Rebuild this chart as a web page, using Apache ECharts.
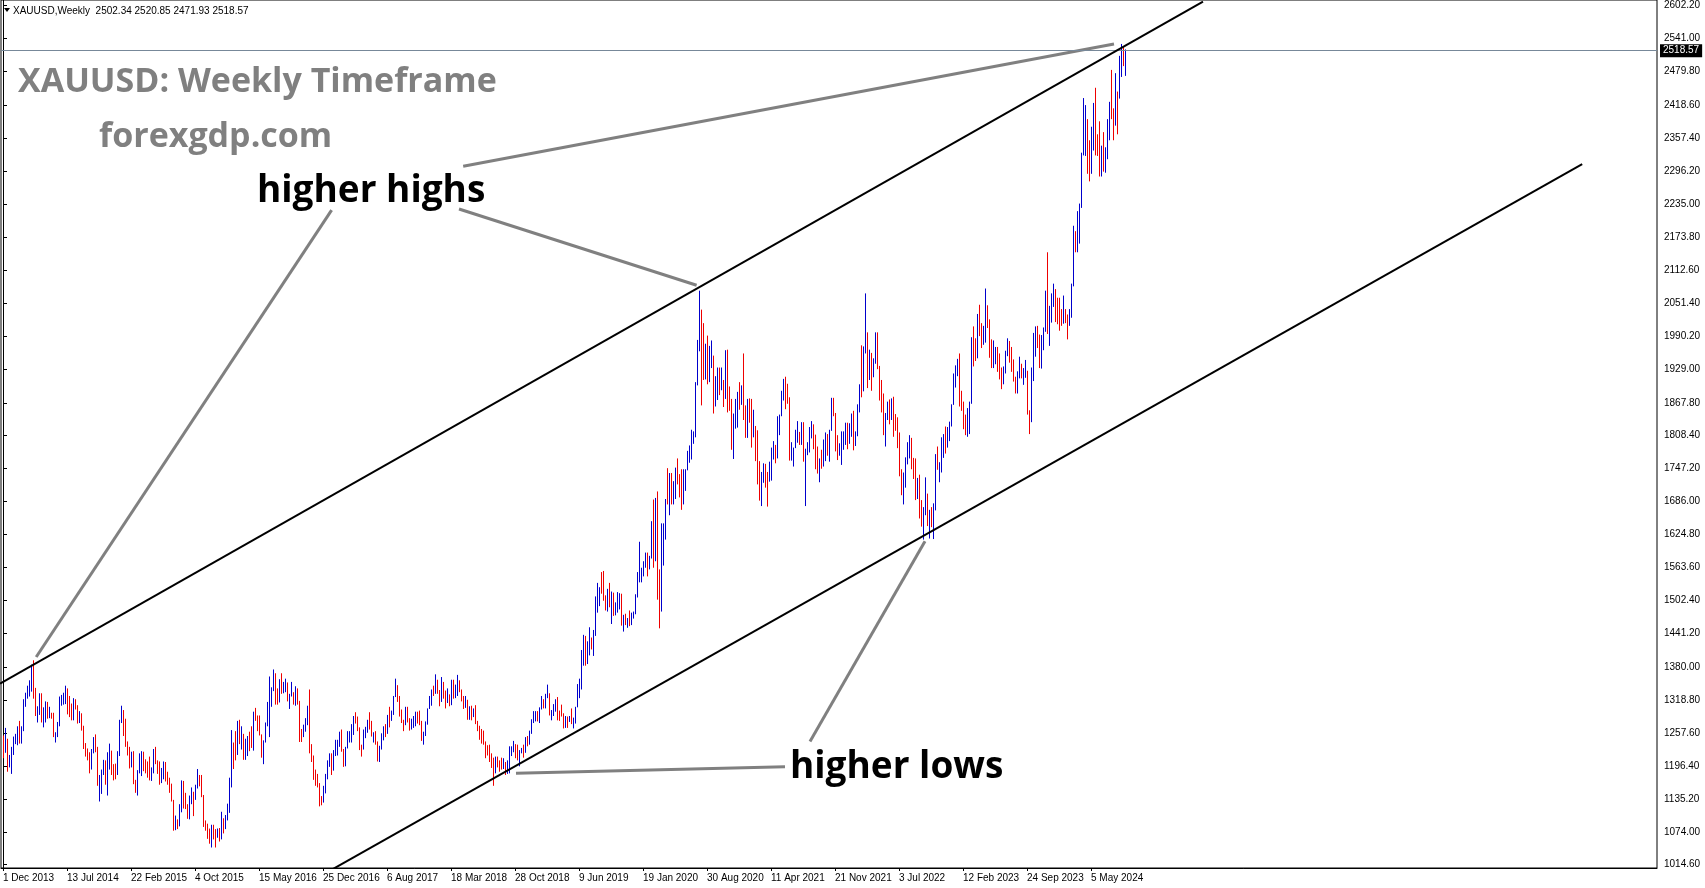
<!DOCTYPE html>
<html><head><meta charset="utf-8">
<script src="https://cdn.jsdelivr.net/npm/echarts@6/dist/echarts.min.js"></script>
<style>html,body{margin:0;padding:0;background:#fff;}#c{width:1705px;height:888px;}</style>
</head><body><div id="c"></div>
<script>
// ---- chart data (weekly OHLC, XAUUSD) ----
const symbol = 'XAUUSD', timeframe = 'Weekly';
const firstWeek = '1 Dec 2013';
const y2013 = [[1250,1253,1211,1229],[1229,1267,1221,1234],[1234,1247,1186,1196],[1196,1217,1194,1212],[1212,1232,1182,1225]];
const y2014 = [[1225,1251,1217,1250],[1250,1256,1237,1254],[1254,1270,1235,1264],[1264,1280,1238,1240],
[1240,1270,1238,1262],[1262,1320,1261,1318],[1318,1332,1306,1324],[1324,1345,1321,1328],
[1328,1355,1325,1339],[1339,1384,1334,1379],[1379,1392,1321,1334],[1334,1341,1289,1294],[1294,1307,1277,1303],
[1303,1331,1291,1318],[1318,1331,1277,1293],[1293,1305,1268,1300],[1300,1316,1277,1302],
[1302,1315,1284,1290],[1290,1306,1285,1293],[1293,1295,1284,1291],[1291,1295,1250,1250],
[1250,1259,1240,1252],[1252,1278,1250,1275],[1275,1325,1270,1316],[1316,1328,1308,1318],[1318,1332,1310,1320],
[1320,1345,1311,1338],[1338,1340,1292,1310],[1310,1326,1287,1304],[1304,1312,1281,1294],
[1294,1322,1281,1310],[1310,1320,1301,1305],[1305,1309,1275,1280],[1280,1298,1276,1287],[1287,1294,1262,1268],
[1268,1271,1228,1231],[1231,1239,1214,1216],[1216,1229,1207,1214],[1214,1222,1183,1192],
[1192,1228,1190,1222],[1222,1250,1220,1238],[1238,1255,1222,1231],[1231,1232,1160,1171],
[1171,1180,1131,1177],[1177,1190,1145,1188],[1188,1208,1180,1200],[1200,1207,1162,1167],[1167,1222,1142,1192],
[1192,1238,1190,1223],[1223,1225,1180,1196],[1196,1200,1170,1195],[1195,1201,1172,1186]];
const y2015 = [[1186,1224,1180,1216],[1216,1282,1215,1277],[1277,1308,1276,1293],[1293,1300,1252,1279],
[1279,1284,1232,1234],[1234,1242,1216,1228],[1228,1232,1192,1203],[1203,1223,1194,1213],
[1213,1224,1163,1166],[1166,1171,1147,1152],[1152,1189,1142,1184],[1184,1220,1183,1199],[1199,1224,1178,1219],
[1219,1223,1187,1207],[1207,1209,1183,1203],[1203,1205,1175,1178],[1178,1214,1170,1175],
[1175,1194,1169,1189],[1189,1228,1183,1225],[1225,1232,1200,1204],[1204,1207,1182,1190],[1190,1205,1162,1168],
[1168,1193,1165,1180],[1180,1205,1172,1201],[1201,1204,1168,1173],[1173,1186,1162,1163],
[1163,1175,1147,1157],[1157,1164,1131,1133],[1133,1134,1077,1085],[1085,1105,1078,1095],
[1095,1098,1080,1094],[1094,1126,1085,1113],[1113,1170,1111,1160],[1160,1169,1118,1134],[1134,1147,1117,1121],
[1121,1126,1099,1107],[1107,1142,1098,1138],[1138,1157,1126,1145],[1145,1149,1104,1136],
[1136,1162,1134,1156],[1156,1191,1155,1176],[1176,1180,1159,1162],[1162,1180,1139,1142],
[1142,1143,1084,1088],[1088,1096,1077,1081],[1081,1090,1062,1076],[1076,1081,1053,1056],[1056,1088,1046,1086],
[1086,1088,1061,1075],[1075,1080,1046,1066],[1066,1081,1064,1076],[1076,1082,1057,1061]];
const y2016 = [[1061,1112,1061,1098],[1098,1100,1072,1089],[1089,1106,1080,1097],[1097,1127,1096,1118],[1118,1175,1110,1158],
[1158,1263,1157,1239],[1239,1240,1191,1230],[1230,1261,1207,1221],[1221,1280,1217,1259],
[1259,1282,1237,1249],[1249,1270,1227,1254],[1254,1256,1208,1217],[1217,1247,1208,1220],
[1220,1252,1215,1243],[1243,1260,1224,1234],[1234,1270,1230,1232],[1232,1297,1225,1291],
[1291,1304,1280,1290],[1290,1290,1261,1273],[1273,1290,1253,1253],[1253,1255,1212,1213],[1213,1244,1200,1243],
[1243,1277,1240,1275],[1275,1315,1270,1298],[1298,1362,1250,1322],[1322,1342,1306,1340],
[1340,1375,1335,1366],[1366,1368,1310,1327],[1327,1340,1310,1322],[1322,1357,1314,1351],[1351,1368,1330,1335],
[1335,1352,1331,1336],[1336,1358,1333,1341],[1341,1351,1316,1321],[1321,1330,1302,1327],
[1327,1352,1325,1328],[1328,1333,1310,1310],[1310,1344,1308,1338],[1338,1340,1310,1316],
[1316,1317,1241,1257],[1257,1265,1241,1251],[1251,1273,1250,1266],[1266,1285,1260,1276],[1276,1308,1272,1304],
[1304,1338,1220,1225],[1225,1237,1204,1208],[1208,1216,1171,1178],[1178,1190,1160,1177],
[1177,1182,1157,1160],[1160,1165,1122,1133],[1133,1141,1124,1132],[1132,1160,1129,1151]];
const y2017 = [[1151,1182,1146,1173],[1173,1207,1172,1197],[1197,1220,1195,1210],[1210,1220,1180,1190],[1190,1226,1188,1220],
[1220,1245,1215,1234],[1234,1245,1216,1238],[1238,1260,1232,1257],[1257,1264,1223,1226],
[1226,1228,1195,1202],[1202,1232,1196,1229],[1229,1261,1229,1243],[1243,1261,1240,1249],
[1249,1274,1240,1254],[1254,1289,1254,1285],[1285,1296,1275,1284],[1284,1288,1261,1268],[1268,1268,1226,1228],
[1228,1236,1214,1227],[1227,1264,1227,1254],[1254,1269,1248,1268],[1268,1282,1258,1280],
[1280,1296,1264,1266],[1266,1280,1251,1254],[1254,1259,1240,1256],[1256,1261,1236,1242],
[1242,1242,1205,1212],[1212,1234,1204,1228],[1228,1257,1227,1254],[1254,1270,1244,1269],[1269,1274,1250,1258],
[1258,1291,1256,1289],[1289,1306,1268,1285],[1285,1299,1280,1292],[1292,1326,1291,1325],
[1325,1358,1324,1346],[1346,1346,1315,1320],[1320,1326,1288,1297],[1297,1301,1276,1280],
[1280,1282,1261,1274],[1274,1306,1272,1304],[1304,1306,1277,1280],[1280,1285,1262,1266],[1266,1284,1264,1269],
[1269,1289,1267,1275],[1275,1297,1270,1294],[1294,1297,1275,1288],[1288,1299,1272,1280],
[1280,1280,1243,1248],[1248,1260,1236,1256],[1256,1279,1252,1277],[1277,1303,1273,1302]];
const y2018 = [[1302,1326,1302,1320],[1320,1338,1308,1338],[1338,1345,1326,1332],[1332,1366,1330,1352],[1352,1356,1330,1333],
[1333,1337,1307,1316],[1316,1361,1315,1347],[1347,1352,1321,1330],[1330,1336,1303,1323],
[1323,1340,1313,1324],[1324,1329,1307,1313],[1313,1356,1309,1349],[1349,1356,1321,1325],
[1325,1347,1322,1332],[1332,1365,1326,1345],[1345,1355,1333,1336],[1336,1338,1316,1323],[1323,1326,1302,1315],
[1315,1326,1304,1318],[1318,1319,1282,1291],[1291,1307,1282,1302],[1302,1308,1281,1294],
[1294,1303,1287,1298],[1298,1309,1274,1278],[1278,1280,1261,1268],[1268,1271,1245,1252],
[1252,1265,1238,1241],[1241,1262,1236,1240],[1240,1242,1211,1231],[1231,1235,1216,1223],[1223,1236,1204,1214],
[1214,1220,1193,1212],[1212,1212,1160,1184],[1184,1214,1183,1206],[1206,1214,1194,1200],
[1200,1207,1186,1198],[1198,1212,1190,1193],[1193,1211,1191,1199],[1199,1204,1180,1192],[1192,1207,1182,1203],
[1203,1233,1183,1218],[1218,1233,1215,1227],[1227,1243,1222,1233],[1233,1237,1211,1232],
[1232,1236,1207,1209],[1209,1226,1196,1222],[1222,1230,1220,1223],[1223,1236,1212,1222],
[1222,1250,1221,1248],[1248,1252,1233,1238],[1238,1262,1236,1257],[1257,1283,1256,1278],[1278,1298,1276,1285]];
const y2019 = [[1285,1298,1279,1290],[1290,1298,1279,1282],[1282,1305,1276,1304],[1304,1326,1301,1318],
[1318,1320,1303,1314],[1314,1330,1303,1323],[1323,1347,1322,1329],[1329,1331,1290,1293],
[1293,1300,1281,1298],[1298,1311,1289,1302],[1302,1320,1297,1313],[1313,1324,1281,1292],[1292,1299,1280,1291],
[1291,1310,1288,1290],[1290,1294,1266,1276],[1276,1289,1267,1286],[1286,1288,1267,1280],
[1280,1289,1278,1286],[1286,1303,1274,1277],[1277,1286,1266,1284],[1284,1306,1275,1305],
[1305,1348,1305,1341],[1341,1358,1322,1342],[1342,1411,1338,1399],[1399,1439,1382,1409],[1409,1437,1382,1400],
[1400,1427,1385,1415],[1415,1453,1401,1426],[1426,1434,1412,1419],[1419,1448,1400,1440],
[1440,1510,1437,1497],[1497,1535,1480,1513],[1513,1527,1492,1527],[1527,1555,1515,1520],
[1520,1557,1502,1507],[1507,1512,1484,1488],[1488,1524,1482,1517],[1517,1535,1490,1497],[1497,1519,1459,1505],
[1505,1517,1474,1489],[1489,1499,1475,1490],[1490,1518,1480,1505],[1505,1516,1486,1514],
[1514,1515,1456,1459],[1459,1476,1445,1468],[1468,1478,1457,1462],[1462,1470,1452,1464],
[1464,1484,1455,1460],[1460,1480,1457,1476],[1476,1482,1469,1478],[1478,1514,1477,1511],[1511,1555,1508,1552]];
const y2020 = [[1552,1611,1536,1557],[1557,1563,1536,1558],[1558,1575,1547,1572],[1572,1591,1563,1589],
[1589,1591,1547,1570],[1570,1585,1560,1584],[1584,1649,1580,1643],[1643,1689,1563,1585],
[1585,1692,1575,1674],[1674,1704,1504,1530],[1530,1560,1451,1498],[1498,1645,1482,1617],[1617,1645,1567,1620],
[1620,1690,1615,1683],[1683,1747,1680,1682],[1682,1738,1660,1727],[1727,1738,1680,1700],
[1700,1723,1680,1702],[1702,1748,1690,1744],[1744,1765,1717,1735],[1735,1736,1693,1730],[1730,1745,1670,1685],
[1685,1745,1680,1730],[1730,1745,1705,1743],[1743,1779,1743,1771],[1771,1789,1757,1775],
[1775,1818,1763,1799],[1799,1815,1792,1810],[1810,1906,1804,1902],[1902,1984,1900,1975],
[1975,2075,1963,2035],[2035,2040,1863,1944],[1944,2015,1910,1940],[1940,1977,1911,1964],[1964,1992,1902,1934],
[1934,1973,1906,1941],[1941,1983,1932,1950],[1950,1955,1848,1862],[1862,1917,1861,1899],
[1899,1933,1873,1930],[1930,1933,1882,1899],[1899,1933,1891,1902],[1902,1910,1860,1879],
[1879,1965,1875,1951],[1951,1966,1850,1887],[1887,1898,1853,1871],[1871,1875,1781,1788],[1788,1848,1764,1839],
[1839,1875,1820,1840],[1840,1888,1822,1881],[1881,1906,1855,1878],[1878,1900,1864,1898]];
const y2021 = [[1898,1959,1836,1849],[1849,1863,1803,1828],[1828,1875,1803,1856],[1856,1876,1831,1847],[1847,1875,1785,1813],
[1813,1855,1804,1824],[1824,1825,1760,1784],[1784,1817,1717,1734],[1734,1760,1687,1700],
[1700,1740,1677,1727],[1727,1756,1720,1745],[1745,1755,1711,1732],[1732,1740,1676,1729],
[1729,1759,1722,1744],[1744,1785,1724,1777],[1777,1797,1763,1778],[1778,1790,1756,1769],
[1769,1843,1765,1831],[1831,1846,1808,1844],[1844,1890,1843,1881],[1881,1912,1872,1903],[1903,1916,1856,1891],
[1891,1903,1866,1877],[1877,1878,1761,1764],[1764,1795,1761,1781],[1781,1785,1750,1784],
[1784,1818,1784,1808],[1808,1834,1794,1812],[1812,1814,1790,1802],[1802,1832,1790,1814],
[1814,1832,1759,1763],[1763,1783,1677,1780],[1780,1795,1771,1781],[1781,1823,1776,1817],[1817,1834,1802,1827],
[1827,1828,1782,1788],[1788,1809,1745,1754],[1754,1787,1737,1750],[1750,1765,1721,1761],
[1761,1781,1746,1757],[1757,1800,1750,1767],[1767,1813,1760,1793],[1793,1810,1770,1783],[1783,1818,1759,1818],
[1818,1877,1816,1864],[1864,1877,1843,1846],[1846,1849,1778,1802],[1802,1808,1762,1783],
[1783,1793,1770,1784],[1784,1815,1753,1798],[1798,1815,1781,1808],[1808,1831,1790,1829]];
const y2022 = [[1829,1831,1782,1797],[1797,1830,1792,1817],[1817,1848,1805,1835],[1835,1853,1780,1791],[1791,1815,1788,1807],
[1807,1865,1806,1859],[1859,1902,1850,1898],[1898,1974,1878,1889],[1889,1972,1889,1966],
[1966,2070,1959,1989],[1989,1998,1895,1921],[1921,1966,1910,1958],[1958,1960,1890,1925],
[1925,1950,1915,1947],[1947,1998,1940,1974],[1974,1998,1930,1931],[1931,1936,1872,1896],
[1896,1910,1850,1883],[1883,1885,1808,1811],[1811,1849,1787,1846],[1846,1870,1836,1853],[1853,1874,1828,1850],
[1850,1876,1836,1871],[1871,1879,1805,1840],[1840,1847,1816,1827],[1827,1841,1784,1812],
[1812,1813,1732,1742],[1742,1745,1697,1703],[1703,1739,1680,1727],[1727,1767,1711,1766],[1766,1795,1754,1775],
[1775,1808,1765,1802],[1802,1803,1745,1747],[1747,1766,1727,1738],[1738,1765,1688,1712],
[1712,1729,1690,1716],[1716,1735,1654,1675],[1675,1688,1639,1644],[1644,1675,1615,1661],
[1661,1730,1660,1695],[1695,1700,1640,1644],[1644,1670,1617,1657],[1657,1675,1638,1645],[1645,1682,1616,1681],
[1681,1773,1669,1771],[1771,1787,1744,1751],[1751,1758,1721,1755],[1755,1804,1739,1797],
[1797,1810,1766,1798],[1798,1824,1774,1793],[1793,1823,1785,1798],[1798,1833,1797,1824]];
const y2023 = [[1824,1865,1824,1865],[1865,1922,1864,1920],[1920,1937,1896,1926],[1926,1949,1917,1928],[1928,1959,1861,1865],
[1865,1890,1853,1864],[1864,1870,1819,1842],[1842,1846,1808,1811],[1811,1858,1805,1856],
[1856,1870,1810,1868],[1868,1989,1866,1988],[1988,2009,1935,1978],[1978,1987,1945,1969],
[1969,2032,1950,2007],[2007,2049,1991,2004],[2004,2015,1969,1983],[1983,2010,1975,1990],[1990,2079,1979,2017],
[2017,2048,2006,2011],[2011,2022,1951,1977],[1977,1985,1932,1946],[1946,1983,1932,1948],
[1948,1971,1939,1961],[1961,1971,1925,1957],[1957,1959,1911,1921],[1921,1933,1893,1919],
[1919,1935,1902,1925],[1925,1964,1922,1955],[1955,1987,1954,1962],[1962,1982,1942,1959],[1959,1971,1925,1943],
[1943,1948,1907,1914],[1914,1916,1885,1889],[1889,1926,1885,1914],[1914,1953,1913,1940],
[1940,1940,1913,1919],[1919,1932,1901,1924],[1924,1947,1914,1925],[1925,1927,1846,1849],
[1849,1854,1810,1833],[1833,1933,1832,1932],[1932,1997,1908,1981],[1981,2009,1953,2006],[2006,2010,1969,1992],
[1992,1994,1932,1940],[1940,1993,1931,1981],[1981,2007,1965,2002],[2002,2075,1999,2072],
[2072,2146,1995,2004],[2004,2047,1973,2019],[2019,2070,2016,2053],[2053,2088,2045,2063]];
const y2024 = [[2063,2078,2017,2049],[2049,2062,2013,2048],[2048,2062,2001,2029],[2029,2041,2010,2018],[2018,2066,2014,2039],
[2039,2041,2015,2024],[2024,2031,1985,2013],[2013,2041,2010,2035],[2035,2088,2025,2083],
[2083,2195,2083,2179],[2179,2185,2146,2155],[2155,2222,2146,2165],[2165,2236,2162,2230],[2230,2330,2228,2330],
[2330,2431,2325,2344],[2344,2418,2324,2392],[2392,2392,2291,2337],[2337,2353,2277,2301],
[2301,2378,2291,2360],[2360,2422,2334,2415],[2415,2450,2325,2334],[2334,2364,2324,2327],
[2327,2388,2286,2294],[2294,2343,2286,2333],[2333,2368,2295,2321],[2321,2340,2293,2326],[2326,2392,2318,2392],
[2392,2424,2353,2411],[2411,2483,2392,2400],[2400,2412,2353,2387],[2387,2477,2380,2443],
[2443,2443,2364,2431],[2431,2509,2430,2507],[2507,2531,2470,2512],[2512,2525,2490,2503],
[2502.34,2520.85,2471.93,2518.57]];

const tickLabels = ['1 Dec 2013','13 Jul 2014','22 Feb 2015','4 Oct 2015','15 May 2016','25 Dec 2016','6 Aug 2017','18 Mar 2018','28 Oct 2018','9 Jun 2019','19 Jan 2020','30 Aug 2020','11 Apr 2021','21 Nov 2021','3 Jul 2022','12 Feb 2023','24 Sep 2023','5 May 2024'];
const priceTicks = [2602.20,2541.00,2479.80,2418.60,2357.40,2296.20,2235.00,2173.80,2112.60,2051.40,1990.20,1929.00,1867.80,1808.40,1747.20,1686.00,1624.80,1563.60,1502.40,1441.20,1380.00,1318.80,1257.60,1196.40,1135.20,1074.00,1014.60];

// channel lines and annotation anchors, in [week index, price]
const upperChannel = [[-1.5,1349],[600,2609]];
const lowerChannel = [[150,975],[789.6,2309]];
const pointerLines = [
  [[164.3,2224],[16.6,1398]],
  [[228,2226],[346.8,2085]],
  [[230.1,2305],[555.5,2531]],
  [[403.5,1242],[461,1612]],
  [[391,1195],[256.5,1183]]
];

// ---- build ----
const bars = [].concat(y2013,y2014,y2015,y2016,y2017,y2018,y2019,y2020,y2021,y2022,y2023,y2024);
const MON = {Jan:0,Feb:1,Mar:2,Apr:3,May:4,Jun:5,Jul:6,Aug:7,Sep:8,Oct:9,Nov:10,Dec:11};
function dayNum(s){ const p = s.split(' '); return Date.UTC(+p[2], MON[p[1]], +p[0]) / 86400000; }
const t0 = dayNum(firstWeek);
const tickIdx = tickLabels.map(s => Math.round((dayNum(s) - t0) / 7));
const idxLabel = {}; tickIdx.forEach((v,k) => idxLabel[v] = tickLabels[k]);
const last = bars[bars.length-1];
const lastClose = last[3];
const UP = '#0000cc', DOWN = '#ee0000';
const AX_FONT = 'Liberation Sans';

const chart = echarts.init(document.getElementById('c'), null, {renderer:'canvas'});
const lineSeries = (pts, color, width, extra) => Object.assign({
  type:'line', data: pts, symbol:'none', silent:true, clip:true, animation:false,
  lineStyle:{color, width}, z:5
}, extra || {});

chart.setOption({
  animation:false,
  backgroundColor:'#ffffff',
  grid:{left:1, top:0, width:1656, height:868, show:true, borderColor:'#000', borderWidth:1, backgroundColor:'#fff'},
  xAxis:{
    type:'value', min:-1, max:827, position:'bottom',
    axisLine:{show:true, lineStyle:{color:'#000', width:1}},
    axisTick:{show:true, customValues: tickIdx, length:3, lineStyle:{color:'#000'}},
    axisLabel:{show:true, customValues: tickIdx, formatter: v => idxLabel[v] || '', align:'left', margin:5,
      fontSize:10, fontFamily:AX_FONT, color:'#000'},
    splitLine:{show:false}
  },
  yAxis:{
    type:'value', position:'right', min:1008.1, max:2612.2,
    axisLine:{show:true, lineStyle:{color:'#000', width:1}},
    axisTick:{show:true, customValues: priceTicks, length:4, lineStyle:{color:'#000'}},
    axisLabel:{show:true, customValues: priceTicks, formatter: v => v.toFixed(2), margin:7,
      fontSize:10, fontFamily:AX_FONT, color:'#000', padding:[5,0,0,0]},
    splitLine:{show:false}
  },
  series:[
    {
      type:'custom', clip:true, silent:true,
      data: bars.map((b,i) => [i, b[0], b[1], b[2], b[3]]),
      encode:{x:0, y:[2,3]},
      renderItem:(params, api) => {
        const i = api.value(0), o = api.value(1), h = api.value(2), l = api.value(3), c = api.value(4);
        const top = api.coord([i, h]), bot = api.coord([i, l]);
        const x = Math.round(top[0]) + 0.5;
        let y1 = top[1], y2 = bot[1];
        if (y2 - y1 < 1) y2 = y1 + 1;
        return {type:'line', shape:{x1:x, y1:y1, x2:x, y2:y2},
          style:{stroke: c >= o ? UP : DOWN, lineWidth:1}};
      },
      z:2
    },
    lineSeries(upperChannel, '#000', 2, {
      markLine:{silent:true, symbol:'none', animation:false,
        data:[{yAxis:lastClose}],
        lineStyle:{color:'#778899', width:1, type:'solid'},
        label:{show:true, position:'end', distance:3, formatter: lastClose.toFixed(2),
          backgroundColor:'#000', color:'#fff', fontSize:10, fontFamily:AX_FONT, padding:[2,3,1,3]}
      }
    }),
    lineSeries(lowerChannel, '#000', 2),
    ...pointerLines.map(p => lineSeries(p, '#808080', 3, {z:4}))
  ],
  graphic:[
    {type:'polygon', shape:{points:[[4,8],[10,8],[7,12]]}, style:{fill:'#000'}},
    {type:'text', x:13, y:11, style:{text: symbol + ',' + timeframe + '  ' + last.map(v => v.toFixed(2)).join(' '),
      font:'10px "Liberation Sans"', fill:'#000', verticalAlign:'middle'}},
    {type:'text', x:18, y:82, style:{text:'XAUUSD: Weekly Timeframe', font:'bold 34px "Open Sans"', fill:'#808080', verticalAlign:'middle'}},
    {type:'text', x:99, y:137, style:{text:'forexgdp.com', font:'bold 34px "Open Sans"', fill:'#808080', verticalAlign:'middle'}},
    {type:'text', x:257, y:191, style:{text:'higher highs', font:'bold 37px "Open Sans"', fill:'#000', verticalAlign:'middle'}},
    {type:'text', x:790, y:767, style:{text:'higher lows', font:'bold 37px "Open Sans"', fill:'#000', verticalAlign:'middle'}}
  ]
});
</script>
</body></html>
